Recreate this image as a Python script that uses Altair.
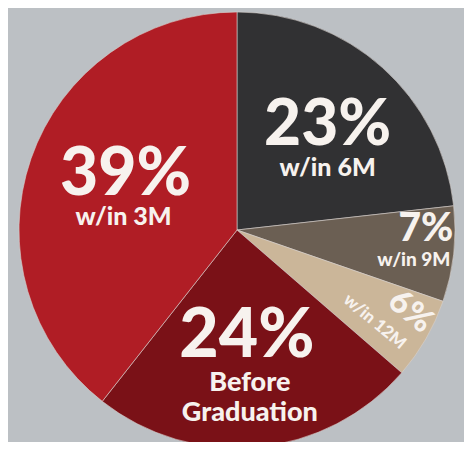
import altair as alt
import pandas as pd

# Data (clockwise from 12 o'clock)
categories = ["w/in 6M", "w/in 9M", "w/in 12M", "Before Graduation", "w/in 3M"]
values = [23, 7, 6, 24, 39]
pct_labels = ["23%", "7%", "6%", "24%", "39%"]
sub_labels = ["w/in 6M", "w/in 9M", "w/in 12M", "Before\nGraduation", "w/in 3M"]
colors = ["#313133", "#6b5f53", "#cbb699", "#7a1117", "#b01d25"]

df = pd.DataFrame({
    "cat": categories,
    "value": values,
    "pct": pct_labels,
    "sub": sub_labels,
    "idx": list(range(len(categories))),
})

CX, CY, R = 229, 222, 218
TEXT_COLOR = "#f7f2ee"
FONT = "Lato"

base = alt.Chart(df).encode(
    theta=alt.Theta("value:Q", stack=True),
    order=alt.Order("idx:Q"),
    x=alt.value(CX),
    y=alt.value(CY),
)

pie = base.mark_arc(radius=R, stroke="#d9d2cf", strokeWidth=0.6).encode(
    color=alt.Color("cat:N", scale=alt.Scale(domain=categories, range=colors), legend=None)
)

# (category, field, radius, dx, dy, size, angle)
label_specs = [
    ("w/in 3M", "pct", 118, 0, -16, 66, 0),
    ("w/in 3M", "sub", 118, -2, 26, 25, 0),
    ("w/in 6M", "pct", 130, 4, -7, 64, 0),
    ("w/in 6M", "sub", 130, 4, 35, 25, 0),
    ("w/in 9M", "pct", 180, 10, -21, 39, 0),
    ("w/in 9M", "sub", 180, -2, 10, 19, 0),
    ("w/in 12M", "pct", 173, 15, -19, 33, 40),
    ("w/in 12M", "sub", 173, -6, 12, 17, 40),
    ("Before Graduation", "pct", 135, -3, -27, 68, 0),
    ("Before Graduation", "sub", 135, 0, 19, 27, 0),
]

layers = [pie]
for cat, field, rad, dx, dy, size, ang in label_specs:
    layers.append(
        base.transform_calculate(
            t=f"datum.cat == '{cat}' ? datum.{field} : ''"
        ).mark_text(
            radius=rad, dx=dx, dy=dy, fontSize=size, angle=ang,
            font=FONT, fontWeight=900, color=TEXT_COLOR,
            align="center", baseline="middle",
            lineBreak="\n", lineHeight=30,
        ).encode(text="t:N")
    )

chart = alt.layer(*layers).properties(
    width=456, height=434,
    autosize=alt.AutoSizeParams(type="none"),
    padding=0,
    background="#bcc0c4",
).configure_view(stroke=None)

chart.save("out.html", embed_options={"renderer": "svg", "actions": False})
